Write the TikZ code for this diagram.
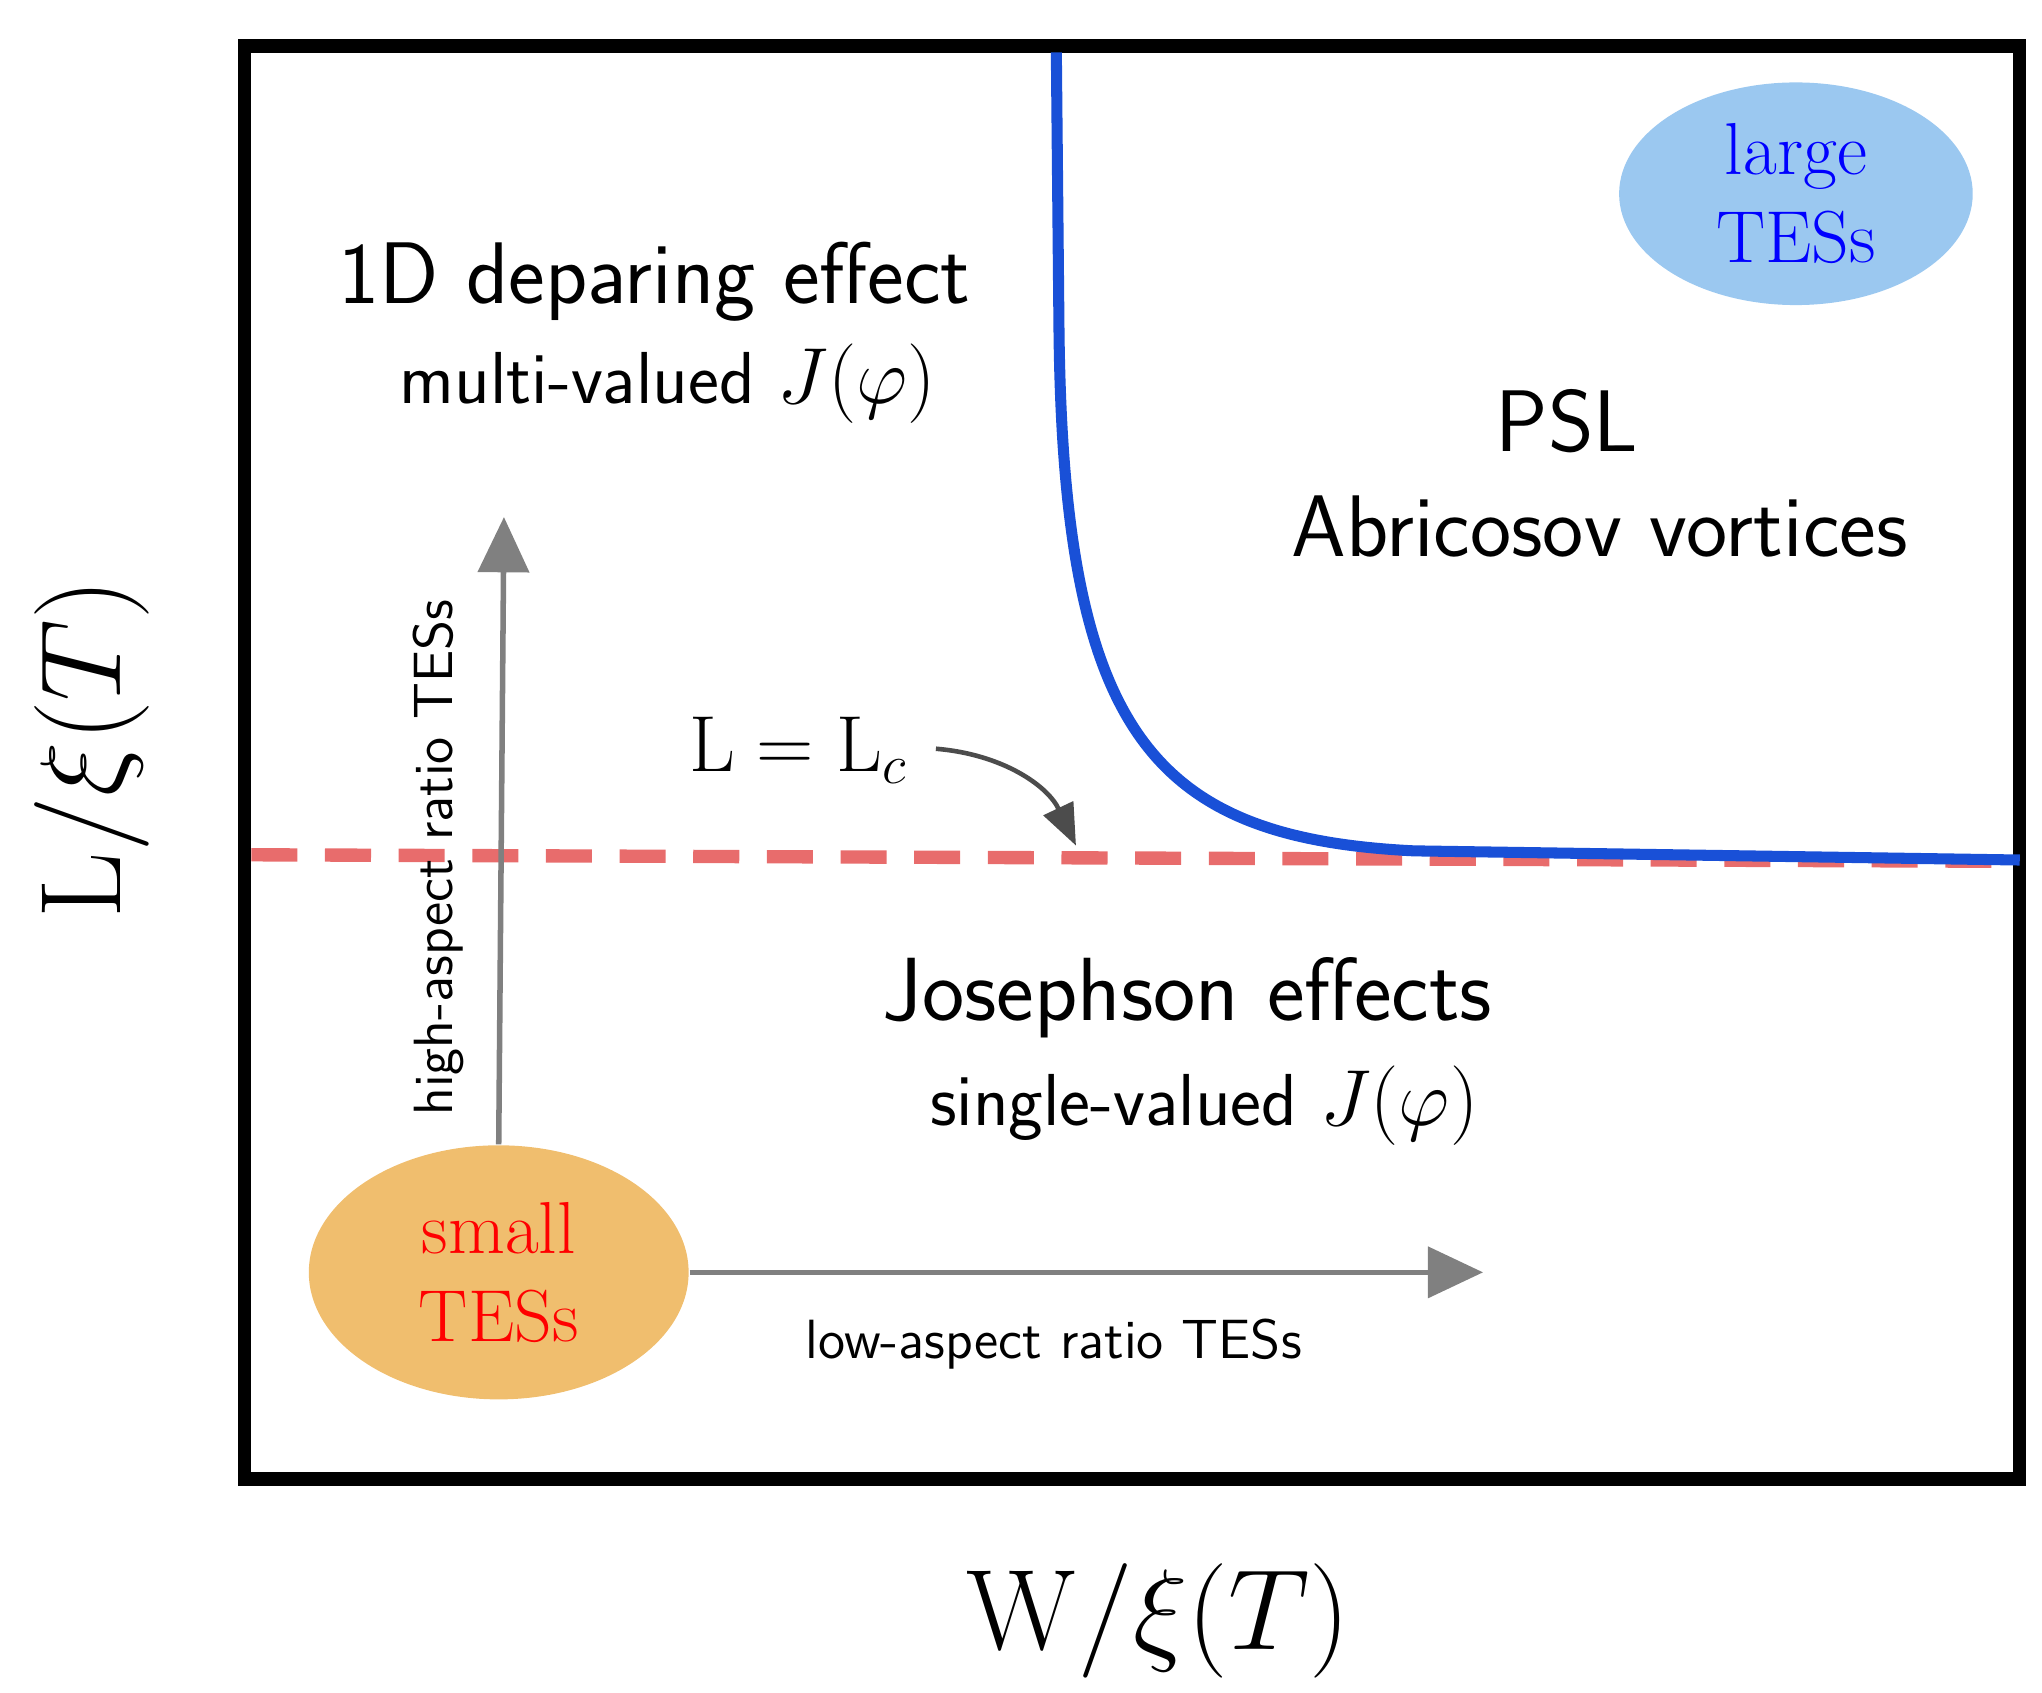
\documentclass[tikz,border=0pt]{standalone}
\usetikzlibrary{arrows.meta,shapes.geometric}
\definecolor{bluec}{RGB}{25,80,215}
\definecolor{redd}{RGB}{232,108,108}
\definecolor{lblue}{RGB}{155,200,240}
\definecolor{lorange}{RGB}{240,190,110}
\definecolor{garr}{RGB}{128,128,128}
\begin{document}
\begin{tikzpicture}[x=0.01cm,y=-0.01cm,
  lab/.style={font=\sffamily},
  garrow/.style={draw=garr,line width=1.2pt,-{Triangle[length=12pt,width=11pt]}}]
\useasboundingbox (0,0) rectangle (1560,1293);
\draw[line width=2.9pt] (187,35) rectangle (1543,1130);
\draw[redd,line width=2.9pt,dash pattern=on 10pt off 6pt] (192,653) -- (1540,658);
\coordinate (c0) at (807,40);
\coordinate (c1) at (1543,657);
\draw[bluec,line width=2.4pt] (c0) -- (809,250) .. controls (812,560) and (880,640) .. (1080,650) -- (c1);
\node[lab,font=\sffamily\fontsize{19}{22}\selectfont] (a1) at (500,215) {1D deparing effect};
\node[lab,font=\sffamily\fontsize{16}{19}\selectfont] (a2) at (510,293) {multi-valued $J(\varphi)$};
\node[lab,font=\sffamily\fontsize{19}{22}\selectfont] (p1) at (1197,322) {PSL};
\node[lab,font=\sffamily\fontsize{19}{22}\selectfont] (p2) at (1222,402) {Abricosov vortices};
\node[lab,font=\sffamily\fontsize{19.5}{22}\selectfont] (j1) at (907,762) {Josephson effects};
\node[lab,font=\sffamily\fontsize{16}{19}\selectfont] (j2) at (920,845) {single-valued $J(\varphi)$};
\node[font=\fontsize{18}{22}\selectfont] (lc) at (610,573) {$\mathrm{L}=\mathrm{L}_c$};
\coordinate (lct) at (822,646);
\draw[-{Triangle[length=9pt,width=7pt]},line width=1pt,black!70] (715,572) to[bend left=30] (lct);
\node[ellipse,fill=lblue,minimum width=2.7cm,minimum height=1.7cm,align=center,text=blue,font=\fontsize{16}{19}\selectfont,inner sep=0] (lg) at (1372,148) {large\\TESs};
\node[ellipse,fill=lorange,minimum width=2.9cm,minimum height=1.94cm,align=center,text=red,font=\fontsize{16}{19}\selectfont,inner sep=0] (sm) at (381,972) {small\\TESs};
\coordinate (vt) at (385,395);
\coordinate (ht) at (1133,972);
\draw[garrow] (sm.north) -- (vt);
\draw[garrow] (sm.east) -- (ht);
\node[lab,rotate=90,font=\sffamily\fontsize{12}{14}\selectfont] (hl) at (335,655) {high-aspect ratio TESs};
\node[lab,font=\sffamily\fontsize{12}{14}\selectfont] (ll) at (805,1027) {low-aspect ratio TESs};
\node[font=\fontsize{25}{30}\selectfont] (xl) at (885,1238) {$\mathrm{W}/\xi(T)$};
\node[rotate=90,font=\fontsize{25}{30}\selectfont] (yl) at (70,572) {$\mathrm{L}/\xi(T)$};
\end{tikzpicture}
\end{document}
